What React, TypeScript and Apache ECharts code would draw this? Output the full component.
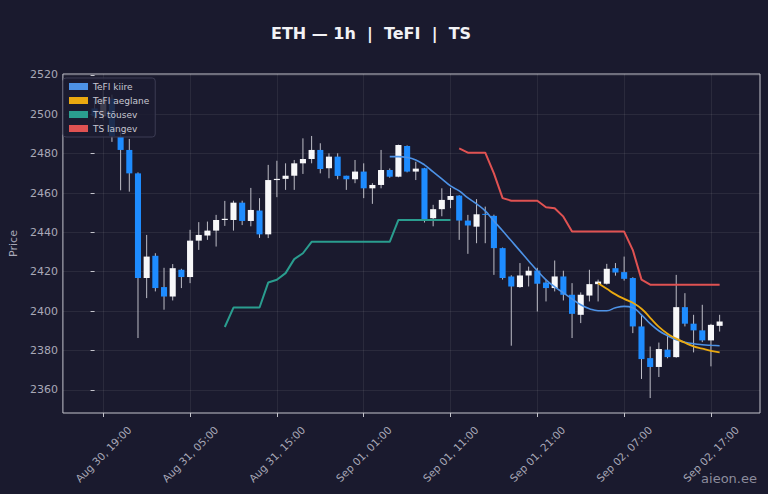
import { useEffect, useRef } from 'react';
import * as echarts from 'echarts';

// x ticks: candle index -> label
const tickIdx = [1, 11, 21, 31, 41, 51, 61, 71];
const tickLabels = [
  'Aug 30, 19:00',
  'Aug 31, 05:00',
  'Aug 31, 15:00',
  'Sep 01, 01:00',
  'Sep 01, 11:00',
  'Sep 01, 21:00',
  'Sep 02, 07:00',
  'Sep 02, 17:00',
];
const priceTicks = [2360, 2380, 2400, 2420, 2440, 2460, 2480, 2500, 2520];

// hourly candles, [open, close, low, high]
const candles: number[][] = [
  [2503, 2499, 2496, 2507],
  [2499, 2508, 2497, 2512.5],
  [2508, 2489, 2486, 2510],
  [2488.6, 2481.9, 2461.4, 2492],
  [2481.9, 2470.0, 2460.7, 2487.5],
  [2470.0, 2416.8, 2386.3, 2470.5],
  [2416.8, 2427.7, 2406.6, 2438.7],
  [2428.1, 2411.7, 2410.0, 2429.4],
  [2412.2, 2407.4, 2400.7, 2422.0],
  [2407.4, 2421.8, 2405.4, 2423.9],
  [2421.0, 2417.3, 2411.7, 2421.5],
  [2417.3, 2435.8, 2414.2, 2441.3],
  [2435.8, 2438.7, 2431.1, 2445.2],
  [2438.4, 2440.9, 2436.2, 2445.5],
  [2440.9, 2446.3, 2432.8, 2448.9],
  [2446.3, 2446.9, 2443.3, 2456.0],
  [2446.3, 2455.1, 2440.9, 2456.1],
  [2455.1, 2445.8, 2443.7, 2456.1],
  [2445.8, 2451.4, 2443.1, 2462.6],
  [2451.1, 2439.0, 2437.2, 2457.4],
  [2439.0, 2466.6, 2437.1, 2474.3],
  [2466.6, 2467.2, 2457.9, 2476.4],
  [2467.2, 2468.8, 2461.6, 2475.1],
  [2468.8, 2475.1, 2461.6, 2476.8],
  [2475.1, 2477.3, 2469.7, 2487.8],
  [2477.3, 2481.9, 2475.1, 2489.0],
  [2481.9, 2472.2, 2470.0, 2485.3],
  [2472.6, 2478.5, 2467.5, 2480.2],
  [2478.5, 2468.7, 2467.0, 2480.2],
  [2468.8, 2467.0, 2461.6, 2468.8],
  [2467.0, 2470.9, 2465.0, 2476.8],
  [2470.9, 2462.4, 2457.4, 2475.1],
  [2462.4, 2464.1, 2454.5, 2465.0],
  [2464.1, 2471.7, 2462.4, 2481.9],
  [2471.7, 2468.3, 2467.8, 2472.5],
  [2468.3, 2484.4, 2468.0, 2484.6],
  [2483.9, 2470.9, 2470.5, 2484.2],
  [2470.9, 2472.4, 2466.6, 2475.9],
  [2472.6, 2446.3, 2445.0, 2472.8],
  [2447.2, 2451.8, 2443.1, 2454.0],
  [2451.8, 2456.5, 2448.2, 2462.4],
  [2456.5, 2458.5, 2452.3, 2462.6],
  [2458.7, 2446.0, 2436.2, 2458.9],
  [2446.0, 2443.5, 2429.1, 2448.9],
  [2442.9, 2449.2, 2434.5, 2456.9],
  [2449.4, 2449.0, 2434.5, 2453.1],
  [2448.4, 2432.0, 2418.4, 2449.0],
  [2432.0, 2416.8, 2416.0, 2432.3],
  [2417.6, 2412.5, 2382.4, 2418.2],
  [2412.2, 2418.1, 2411.8, 2424.4],
  [2418.1, 2420.5, 2412.5, 2422.6],
  [2420.6, 2413.9, 2399.8, 2422.0],
  [2414.5, 2411.7, 2404.9, 2416.0],
  [2411.7, 2417.6, 2410.0, 2425.7],
  [2417.6, 2408.3, 2405.4, 2420.5],
  [2408.3, 2398.6, 2386.3, 2414.2],
  [2398.1, 2408.3, 2393.9, 2409.5],
  [2407.9, 2413.7, 2404.9, 2421.0],
  [2413.7, 2415.0, 2404.9, 2416.0],
  [2413.9, 2421.5, 2413.5, 2424.0],
  [2421.8, 2419.6, 2418.0, 2424.4],
  [2419.8, 2416.4, 2415.5, 2427.7],
  [2416.8, 2392.2, 2388.8, 2417.2],
  [2392.2, 2375.6, 2365.5, 2398.1],
  [2376.1, 2371.6, 2355.8, 2382.0],
  [2371.6, 2380.7, 2366.5, 2384.0],
  [2380.4, 2376.6, 2376.0, 2388.0],
  [2376.6, 2402.0, 2376.3, 2418.4],
  [2402.0, 2393.6, 2392.2, 2409.1],
  [2393.6, 2390.2, 2379.0, 2398.1],
  [2390.2, 2385.1, 2384.2, 2403.2],
  [2385.1, 2393.0, 2371.9, 2393.5],
  [2392.5, 2394.7, 2389.6, 2398.1],
];

// indicator lines, each starts at a candle index
const tefiFastStart = 34;
const tefiFast = [
  2478.5, 2478.5, 2478.1, 2476.8, 2474.3, 2470.7, 2467.2, 2463.6, 2461.1, 2457.5,
  2454.5, 2450.9, 2445.8, 2440.8, 2435.7, 2430.6, 2425.5, 2420.5, 2415.9, 2412.3,
  2409.3, 2406.2, 2403.2, 2401.2, 2400.2, 2400.2, 2401.7, 2402.4, 2401.7, 2398.1,
  2393.6, 2390.0, 2387.5, 2385.4, 2384.2, 2383.4, 2382.9, 2382.6, 2382.4,
];
const tefiSlowStart = 58;
const tefiSlow = [
  2414.1, 2411.3, 2408.5, 2406.2, 2404.2, 2401.2, 2396.6, 2392.0, 2388.5, 2386.0,
  2383.9, 2382.1, 2380.9, 2379.8, 2379.0,
];
const tsUpStart = 15;
const tsUp = [
  2391.9, 2401.8, 2401.8, 2401.8, 2401.8, 2414.5, 2415.9, 2419.3, 2426.4, 2429.4,
  2435.2, 2435.2, 2435.2, 2435.2, 2435.2, 2435.2, 2435.2, 2435.2, 2435.2, 2435.2,
  2446.3, 2446.3, 2446.3, 2446.3, 2446.3, 2446.3, 2446.3,
];
const tsDownStart = 42;
const tsDown = [
  2482.7, 2480.5, 2480.5, 2480.5, 2470.0, 2457.4, 2456.1, 2456.1, 2456.1, 2456.1,
  2452.8, 2452.3, 2448.0, 2440.4, 2440.4, 2440.4, 2440.4, 2440.4, 2440.4, 2440.4,
  2431.0, 2416.0, 2413.4, 2413.4, 2413.4, 2413.4, 2413.4, 2413.4, 2413.4, 2413.4,
  2413.4,
];

const BG = '#1a1a2e';
const TXT = '#a9a9b8';
const FONT = 'DejaVu Sans';

const pairs = (start: number, vals: number[]) => vals.map((v, k) => [start + k, v]);

export default function App() {
  const chartRef = useRef<HTMLDivElement>(null);

  useEffect(() => {
    if (!chartRef.current) return;
    const chart = echarts.init(chartRef.current, undefined, { renderer: 'svg' });

    const span = candles.length; // matplotlib-like 5% margins
    const pad = span * 0.05;

    chart.setOption({
      animation: false,
      backgroundColor: BG,
      textStyle: { fontFamily: FONT },
      grid: {
        left: 60,
        right: 8,
        top: 74,
        bottom: 81,
        show: true,
        borderColor: '#c4c4cc',
        borderWidth: 1,
        backgroundColor: 'transparent',
      },
      legend: {
        left: 63,
        top: 78,
        orient: 'vertical',
        icon: 'rect',
        itemWidth: 19,
        itemHeight: 7,
        itemGap: 5,
        padding: [4, 6],
        backgroundColor: 'rgba(28,28,48,0.85)',
        borderColor: '#3c3c54',
        borderWidth: 1,
        borderRadius: 3,
        textStyle: { color: '#c8c8d2', fontSize: 9, fontFamily: FONT },
        data: ['TeFI kiire', 'TeFI aeglane', 'TS tõusev', 'TS langev'],
      },
      graphic: [
        {
          type: 'text',
          x: 371,
          y: 33,
          style: {
            text: 'ETH — 1h  |  TeFI  |  TS',
            fill: '#f2f2f5',
            font: `bold 16px "${FONT}"`,
            textAlign: 'center',
            textVerticalAlign: 'middle',
          },
        },
        {
          type: 'text',
          x: 757,
          y: 478,
          z: 10,
          style: {
            text: 'aieon.ee',
            fill: '#8c8c9c',
            font: `13px "${FONT}"`,
            textAlign: 'right',
            textVerticalAlign: 'middle',
          },
        },
      ],
      xAxis: {
        type: 'value',
        min: -pad,
        max: span + pad,
        axisLine: { show: false },
        axisTick: {
          show: true,
          length: 4,
          lineStyle: { color: '#c4c4cc' },
          customValues: tickIdx,
        },
        axisLabel: {
          customValues: tickIdx,
          rotate: 45,
          align: 'center',
          verticalAlign: 'middle',
          margin: 41,
          color: TXT,
          fontSize: 10.5,
          fontFamily: FONT,
          formatter: (v: number) => tickLabels[tickIdx.indexOf(v)] ?? '',
        },
        splitLine: { show: true, lineStyle: { color: 'rgba(255,255,255,0.07)', width: 1 } },
      },
      yAxis: {
        type: 'value',
        min: 2348.2,
        max: 2520.5,
        name: 'Price',
        nameLocation: 'middle',
        nameRotate: 90,
        nameGap: 42,
        nameTextStyle: { color: TXT, fontSize: 11, fontFamily: FONT },
        axisLine: { show: false },
        axisTick: {
          show: true,
          length: 4,
          lineStyle: { color: '#c4c4cc' },
          customValues: priceTicks,
        },
        axisLabel: {
          customValues: priceTicks,
          margin: 5,
          color: TXT,
          fontSize: 11,
          fontFamily: FONT,
          formatter: (v: number) => String(v),
        },
        splitLine: { show: true, lineStyle: { color: 'rgba(255,255,255,0.07)', width: 1 } },
      },
      series: [
        {
          name: 'ETH',
          type: 'custom',
          clip: true,
          encode: { x: 0, y: [1, 2, 3, 4] },
          data: candles.map((c, i) => [i, ...c]),
          renderItem: (_p: any, api: any) => {
            const i = api.value(0);
            const o = api.value(1);
            const c = api.value(2);
            const lo = api.value(3);
            const hi = api.value(4);
            const pHi = api.coord([i, hi]);
            const pLo = api.coord([i, lo]);
            const pO = api.coord([i, o]);
            const pC = api.coord([i, c]);
            const w = api.size([1, 0])[0] * 0.7;
            const up = c >= o;
            return {
              type: 'group',
              children: [
                {
                  type: 'line',
                  shape: { x1: pHi[0], y1: pHi[1], x2: pLo[0], y2: pLo[1] },
                  style: { stroke: '#bdbdc6', lineWidth: 1 },
                },
                {
                  type: 'rect',
                  shape: {
                    x: pO[0] - w / 2,
                    y: Math.min(pO[1], pC[1]),
                    width: w,
                    height: Math.max(Math.abs(pO[1] - pC[1]), 1),
                  },
                  style: { fill: up ? '#f7f7f9' : '#1e8cff' },
                },
              ],
            };
          },
        },
        {
          name: 'TeFI kiire',
          type: 'line',
          data: pairs(tefiFastStart, tefiFast),
          smooth: true,
          showSymbol: false,
          color: '#4d92e6',
          lineStyle: { width: 1.6 },
        },
        {
          name: 'TeFI aeglane',
          type: 'line',
          data: pairs(tefiSlowStart, tefiSlow),
          smooth: true,
          showSymbol: false,
          color: '#eaa910',
          lineStyle: { width: 1.8 },
        },
        {
          name: 'TS tõusev',
          type: 'line',
          data: pairs(tsUpStart, tsUp),
          showSymbol: false,
          color: '#2a9d8f',
          lineStyle: { width: 2 },
        },
        {
          name: 'TS langev',
          type: 'line',
          data: pairs(tsDownStart, tsDown),
          showSymbol: false,
          color: '#e05252',
          lineStyle: { width: 2 },
        },
      ],
    });

    return () => chart.dispose();
  }, []);

  return (
    <div
      ref={chartRef}
      style={{ position: 'fixed', left: 0, top: 0, width: 768, height: 494 }}
    />
  );
}
